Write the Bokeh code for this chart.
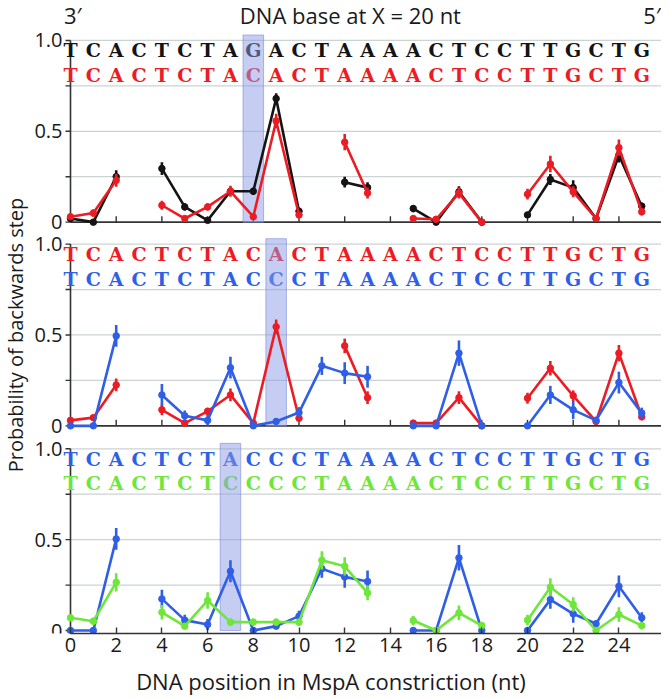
import math
from bokeh.plotting import figure
from bokeh.models import FixedTicker, Range1d
from bokeh.core.properties import value
from bokeh.embed import file_html
from bokeh.resources import INLINE

nan = float("nan")

positions = list(range(26))

# panel 1 (black vs red)
top_black = [0.02, 0.0, 0.25, nan, 0.295, 0.084, 0.01, 0.17, 0.17, 0.68, 0.06, nan, 0.22, 0.19, nan,
             0.075, 0.0, 0.167, 0.0, nan, 0.04, 0.235, 0.19, 0.02, 0.368, 0.088]
top_black_err = [0.01, 0.005, 0.035, nan, 0.035, 0.02, 0.01, 0.02, 0.02, 0.03, 0.02, nan, 0.03, 0.03, nan,
                 0.02, 0.005, 0.03, 0.005, nan, 0.015, 0.03, 0.04, 0.01, 0.04, 0.02]
top_red = [0.03, 0.05, 0.23, nan, 0.093, 0.02, 0.084, 0.17, 0.03, 0.557, 0.04, nan, 0.44, 0.16, nan,
           0.02, 0.016, 0.16, 0.0, nan, 0.154, 0.32, 0.167, 0.02, 0.41, 0.057]
top_red_err = [0.01, 0.02, 0.035, nan, 0.025, 0.01, 0.02, 0.03, 0.01, 0.04, 0.02, nan, 0.045, 0.03, nan,
               0.01, 0.01, 0.03, 0.005, nan, 0.03, 0.045, 0.03, 0.01, 0.045, 0.02]

# panel 2 (red vs blue)
mid_red = [0.03, 0.045, 0.225, nan, 0.088, 0.015, 0.08, 0.17, 0.015, 0.545, 0.042, nan, 0.44, 0.155, nan,
           0.015, 0.015, 0.155, 0.0, nan, 0.152, 0.317, 0.165, 0.024, 0.40, 0.05]
mid_red_err = [0.01, 0.015, 0.035, nan, 0.03, 0.01, 0.02, 0.035, 0.01, 0.04, 0.02, nan, 0.04, 0.035, nan,
               0.01, 0.01, 0.035, 0.005, nan, 0.03, 0.04, 0.03, 0.01, 0.045, 0.02]
mid_blue = [0.0, 0.0, 0.495, nan, 0.17, 0.055, 0.03, 0.32, 0.0, 0.024, 0.073, 0.33, 0.29, 0.27, nan,
            0.0, 0.0, 0.40, 0.0, nan, 0.0, 0.17, 0.088, 0.03, 0.238, 0.07]
mid_blue_err = [0.005, 0.005, 0.06, nan, 0.06, 0.03, 0.03, 0.06, 0.005, 0.015, 0.03, 0.05, 0.06, 0.06, nan,
                0.005, 0.005, 0.07, 0.005, nan, 0.005, 0.05, 0.05, 0.02, 0.06, 0.03]

# panel 3 (blue vs green)
bot_blue = [0.0, 0.0, 0.504, nan, 0.174, 0.057, 0.033, 0.326, 0.0, 0.024, 0.079, 0.34, 0.295, 0.27, nan,
            0.0, 0.0, 0.40, 0.0, nan, 0.0, 0.17, 0.092, 0.037, 0.243, 0.07]
bot_blue_err = [0.005, 0.005, 0.06, nan, 0.05, 0.03, 0.03, 0.06, 0.005, 0.015, 0.03, 0.05, 0.06, 0.06, nan,
                0.005, 0.005, 0.07, 0.005, nan, 0.005, 0.05, 0.05, 0.02, 0.06, 0.03]
bot_green = [0.07, 0.051, 0.265, nan, 0.10, 0.024, 0.165, 0.046, 0.046, 0.046, 0.046, 0.386, 0.353, 0.207, nan,
             0.055, 0.0, 0.097, 0.027, nan, 0.057, 0.238, 0.143, 0.0, 0.088, 0.027]
bot_green_err = [0.02, 0.02, 0.05, nan, 0.04, 0.015, 0.045, 0.02, 0.02, 0.02, 0.02, 0.05, 0.05, 0.04, nan,
                 0.025, 0.005, 0.04, 0.02, nan, 0.03, 0.05, 0.04, 0.005, 0.04, 0.02]

seq_top_1 = "TCACTCTAGACTAAAACTCCTTGCTG"
seq_top_2 = "TCACTCTACACTAAAACTCCTTGCTG"
seq_mid_1 = "TCACTCTACACTAAAACTCCTTGCTG"
seq_mid_2 = "TCACTCTACCCTAAAACTCCTTGCTG"
seq_bot_1 = "TCACTCTACCCTAAAACTCCTTGCTG"
seq_bot_2 = "TCACTCTCCCCTAAAACTCCTTGCTG"

highlight = [8, 9, 7]

x_ticks = list(range(0, 25, 2))
y_ticks = [0, 0.25, 0.5, 0.75, 1.0]
y_tick_labels = ["0", "", "0.5", "", "1.0"]
grid_ticks = [0.25, 0.5, 0.75, 1.0]

title_texts = ["3\u2032", "DNA base at X = 20 nt", "5\u2032"]
title_x = [0.1, 12.25, 25.45]
x_label = "DNA position in MspA constriction (nt)"
y_label = "Probability of backwards step"

BLACK = "#141414"
RED = "#ed1c24"
BLUE = "#2e5fe6"
GREEN = "#6ee63a"
AXIS = "#333333"
GRID = "#cbd3d3"
TXT = "#1a1a1a"
SANS = "Open Sans"
SEQ_FONT = "DejaVu Serif"

# layout geometry (pixels)
PX_X = 22.85          # px per x unit
PX_Y = 182.0          # px per y unit in each panel
X0_PX = 70.0          # page x of x = 0
W = 661
FRAME_H = 634
BOTTOM = 64
PANEL_ZERO_PX = [222.0, 426.0, 631.0]   # page y of y = 0 for each panel

X_START = -X0_PX / PX_X
X_END = (W - X0_PX) / PX_X
TICK_X = 5 / PX_X
TICK_Y = 6 / PX_Y


def panel_range(p0):
    return Range1d(start=(p0 - FRAME_H) / PX_Y, end=p0 / PX_Y)


p = figure(width=W, height=FRAME_H + BOTTOM, x_range=(X_START, X_END),
           y_range=panel_range(PANEL_ZERO_PX[2]),
           output_backend="svg", toolbar_location=None,
           min_border_left=0, min_border_right=0, min_border_top=0, min_border_bottom=BOTTOM)
p.extra_y_ranges = {"p1": panel_range(PANEL_ZERO_PX[0]), "p2": panel_range(PANEL_ZERO_PX[1])}
p.outline_line_color = None
p.background_fill_color = "white"
p.border_fill_color = "white"
p.grid.visible = False
p.yaxis.visible = False

xa = p.xaxis[0]
xa.ticker = FixedTicker(ticks=x_ticks)
xa.bounds = (0, X_END)
xa.major_tick_in = 6
xa.major_tick_out = 0
xa.minor_tick_line_color = None
xa.axis_line_color = AXIS
xa.axis_line_width = 1.6
xa.major_tick_line_color = AXIS
xa.major_tick_line_width = 1.4
xa.major_label_text_font = SANS
xa.major_label_text_font_size = "20px"
xa.major_label_text_color = TXT
xa.major_label_standoff = 4
xa.axis_label = x_label
xa.axis_label_text_font = SANS
xa.axis_label_text_font_size = "22px"
xa.axis_label_text_font_style = "normal"
xa.axis_label_text_color = TXT
xa.axis_label_standoff = 11

panels = [
    ("p1", seq_top_1, seq_top_2, BLACK, RED, top_black, top_black_err, top_red, top_red_err, highlight[0]),
    ("p2", seq_mid_1, seq_mid_2, RED, BLUE, mid_red, mid_red_err, mid_blue, mid_blue_err, highlight[1]),
    ("default", seq_bot_1, seq_bot_2, BLUE, GREEN, bot_blue, bot_blue_err, bot_green, bot_green_err,
     highlight[2]),
]

n = len(positions)
for rn, seq1, seq2, c1, c2, s1, e1, s2, e2, hl in panels:
    # horizontal grid lines
    p.segment(x0=[0] * len(grid_ticks), y0=grid_ticks, x1=[X_END] * len(grid_ticks), y1=grid_ticks,
              line_color=GRID, line_width=1.3, y_range_name=rn)
    # y axis: line, ticks, labels
    p.segment(x0=[0], y0=[y_ticks[0]], x1=[0], y1=[y_ticks[-1]], line_color=AXIS, line_width=1.6,
              y_range_name=rn)
    p.segment(x0=[-TICK_X] * len(y_ticks), y0=y_ticks, x1=[0] * len(y_ticks), y1=y_ticks,
              line_color=AXIS, line_width=1.4, y_range_name=rn)
    p.text(x=[0] * len(y_ticks), y=y_ticks, text=y_tick_labels, x_offset=-8,
           text_color=TXT, text_font=value(SANS), text_font_size="20px",
           text_align="right", text_baseline="middle", y_range_name=rn)
    # x axis line and inward ticks for the upper panels
    if rn != "default":
        p.segment(x0=[0], y0=[0], x1=[X_END], y1=[0], line_color=AXIS, line_width=1.6, y_range_name=rn)
        p.segment(x0=x_ticks, y0=[0] * len(x_ticks), x1=x_ticks, y1=[TICK_Y] * len(x_ticks),
                  line_color=AXIS, line_width=1.4, y_range_name=rn)
    # sequences
    p.text(x=positions, y=[0.945] * n, text=list(seq1), text_color=c1,
           text_font=value(SEQ_FONT), text_font_style="bold", text_font_size="19px",
           text_align="center", text_baseline="middle", y_range_name=rn)
    p.text(x=positions, y=[0.81] * n, text=list(seq2), text_color=c2,
           text_font=value(SEQ_FONT), text_font_style="bold", text_font_size="19px",
           text_align="center", text_baseline="middle", y_range_name=rn)
    # highlight band
    p.quad(left=[hl - 0.45], right=[hl + 0.45], bottom=[0], top=[1.03],
           fill_color="#8c9be6", fill_alpha=0.5, line_color="#7d8cd8", line_alpha=0.6, line_width=1,
           y_range_name=rn)
    # series
    for ys, es, col in ((s1, e1, c1), (s2, e2, c2)):
        lo = [y - e for y, e in zip(ys, es)]
        hi = [y + e for y, e in zip(ys, es)]
        p.line(positions, ys, line_color=col, line_width=2.6, y_range_name=rn)
        p.segment(x0=positions, y0=lo, x1=positions, y1=hi, line_color=col, line_width=2.6,
                  y_range_name=rn)
        p.scatter(positions, ys, size=6.5, fill_color=col, line_color=col, y_range_name=rn)

# title row
p.text(x=title_x, y=[1.14] * 3, text=title_texts, text_color=TXT, text_font=value(SANS),
       text_font_size="22px", text_align="center", text_baseline="middle", y_range_name="p1")

# y axis title (centred on the middle panel)
p.text(x=[(15 - X0_PX) / PX_X], y=[0.5], text=[y_label], angle=math.pi / 2,
       text_color=TXT, text_font=value(SANS), text_font_size="20px",
       text_align="center", text_baseline="middle", y_range_name="p2")

open("out.html", "w").write(file_html(p, INLINE))
